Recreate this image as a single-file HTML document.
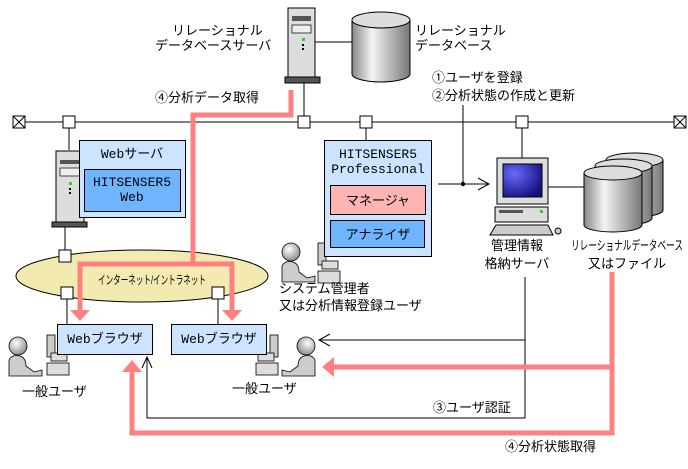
<!DOCTYPE html>
<html><head><meta charset="utf-8"><style>
body{margin:0;background:#fff;}
svg{display:block;font-family:"Liberation Sans","Noto Sans CJK JP",sans-serif;}
.t{font-size:13px;fill:#000;}
.m{font-family:"Liberation Mono","Noto Sans CJK JP",monospace;}
</style></head><body>
<svg width="688" height="469" viewBox="0 0 688 469" xmlns="http://www.w3.org/2000/svg">
<defs>
<linearGradient id="cyl" x1="0" x2="1"><stop offset="0" stop-color="#888"/><stop offset="0.35" stop-color="#f4f4f4"/><stop offset="1" stop-color="#777"/></linearGradient>
<radialGradient id="scr" cx="0.3" cy="0.3" r="0.8"><stop offset="0" stop-color="#6a6aff"/><stop offset="1" stop-color="#10107a"/></radialGradient>
<radialGradient id="head" cx="0.4" cy="0.35" r="0.7"><stop offset="0" stop-color="#fff"/><stop offset="1" stop-color="#888"/></radialGradient>
<g id="person">
<circle cx="12" cy="10" r="9" fill="url(#head)" stroke="#000" stroke-width="0.8"/>
<path d="M3 40 L3 24 Q6 18 14 20 Q20 22 20 30 L28 36 L36 34 L36 40 Z" fill="#ccc" stroke="#000" stroke-width="0.8"/>
</g>
<g id="pc">
<rect x="0" y="0" width="8" height="22" fill="#ccc" stroke="#000" stroke-width="0.8"/>
<rect x="4" y="18" width="16" height="8" fill="#ddd" stroke="#000" stroke-width="0.8"/>
<rect x="0" y="28" width="22" height="12" fill="#ddd" stroke="#000" stroke-width="0.8"/>
</g>
</defs>

<line x1="25" y1="122" x2="674" y2="122" stroke="#000"/>
<rect x="13" y="116" width="12" height="12" fill="#fff" stroke="#000"/><path d="M13 116L25 128M25 116L13 128" stroke="#000"/>
<rect x="674" y="116" width="12" height="12" fill="#fff" stroke="#000"/><path d="M674 116L686 128M686 116L674 128" stroke="#000"/>

<line x1="304" y1="80" x2="304" y2="122" stroke="#000"/>
<line x1="315" y1="42" x2="352" y2="42" stroke="#000"/>
<rect x="288" y="8" width="27" height="70" fill="#ddd" stroke="#000"/>
<rect x="292" y="16" width="19" height="5" fill="#555"/><rect x="292" y="25" width="19" height="8" fill="#eee" stroke="#000" stroke-width="0.7"/>
<rect x="302" y="38" width="3" height="3" fill="#3c3"/><rect x="302" y="44" width="2" height="2" fill="#000"/><rect x="302" y="48" width="2" height="2" fill="#000"/>
<rect x="285" y="77" width="35" height="6" fill="#555" stroke="#000"/>
<path d="M352 20 V74 A29 8 0 0 0 410 74 V20" fill="url(#cyl)" stroke="#000"/>
<ellipse cx="381" cy="20" rx="29" ry="8" fill="#ddd" stroke="#000"/>
<text class="t" x="415" y="35">リレーショナル</text><text class="t" x="415" y="50">データベース</text>
<text class="t" x="172" y="35">リレーショナル</text><text class="t" x="155" y="50">データベースサーバ</text>

<rect x="63" y="116" width="12" height="12" fill="#fff" stroke="#000"/>
<rect x="298" y="116" width="12" height="12" fill="#fff" stroke="#000"/>
<rect x="360" y="116" width="12" height="12" fill="#fff" stroke="#000"/>
<rect x="516" y="116" width="12" height="12" fill="#fff" stroke="#000"/>

<line x1="69" y1="128" x2="69" y2="150" stroke="#000"/>
<line x1="65" y1="227" x2="65" y2="252" stroke="#000"/>
<rect x="56" y="151" width="28" height="72" fill="#ddd" stroke="#000"/>
<rect x="60" y="160" width="20" height="4" fill="#555"/><rect x="60" y="168" width="20" height="8" fill="#eee" stroke="#000" stroke-width="0.7"/>
<rect x="69" y="182" width="3" height="3" fill="#3c3"/><rect x="69" y="188" width="2" height="2" fill="#000"/><rect x="69" y="192" width="2" height="2" fill="#000"/>
<rect x="52" y="222" width="35" height="5" fill="#555" stroke="#000"/>
<rect x="79.5" y="140.5" width="106" height="77" fill="#cce4ff" stroke="#000"/>
<text class="t m" x="132" y="158" text-anchor="middle">Webサーバ</text>
<rect x="84.5" y="169.5" width="96" height="42" fill="#6eb4ff" stroke="#000"/>
<text class="t m" x="132" y="186" text-anchor="middle">HITSENSER5</text><text class="t m" x="132" y="201" text-anchor="middle">Web</text>

<ellipse cx="142" cy="276" rx="126" ry="26" fill="#f2eab0" stroke="#000"/>
<rect x="59" y="250" width="12" height="12" fill="#fff" stroke="#000"/>
<rect x="61" y="287" width="12" height="12" fill="#fff" stroke="#000"/>
<rect x="212" y="287" width="12" height="12" fill="#fff" stroke="#000"/>
<line x1="67" y1="299" x2="67" y2="324" stroke="#000"/>
<line x1="218" y1="299" x2="218" y2="324" stroke="#000"/>
<text x="152" y="284" font-size="12" text-anchor="middle" textLength="108" lengthAdjust="spacingAndGlyphs">インターネット/イントラネット</text>

<path d="M291 90 V115 H193 V264" fill="none" stroke="#ff8080" stroke-width="5"/>
<path d="M80 318 V264 H232 V318" fill="none" stroke="#ff8080" stroke-width="5"/>
<path d="M70 310 L80 321 L90 310 Z" fill="#ff8080"/><path d="M222 310 L232 321 L242 310 Z" fill="#ff8080"/>
<text class="t" x="155" y="102">④分析データ取得</text>

<use href="#pc" x="47" y="335"/>
<use href="#person" x="6" y="336"/>
<rect x="57.5" y="324.5" width="95" height="30" fill="#cce4ff" stroke="#000"/>
<text class="t m" x="105" y="343" text-anchor="middle">Webブラウザ</text>
<g transform="translate(278,335) scale(-1,1)"><use href="#pc"/></g>
<g transform="translate(318,336) scale(-1,1)"><use href="#person"/></g>
<rect x="171.5" y="324.5" width="95" height="30" fill="#cce4ff" stroke="#000"/>
<text class="t m" x="219" y="343" text-anchor="middle">Webブラウザ</text>
<text class="t" x="22" y="396">一般ユーザ</text>
<text class="t" x="232" y="393">一般ユーザ</text>

<line x1="366" y1="128" x2="366" y2="140" stroke="#000"/>
<use href="#pc" x="318" y="243"/>
<use href="#person" x="279" y="242"/>
<rect x="324.5" y="140.5" width="107" height="116" fill="#cce4ff" stroke="#000"/>
<text class="t m" x="378" y="158" text-anchor="middle">HITSENSER5</text>
<text class="t m" x="378" y="173" text-anchor="middle">Professional</text>
<rect x="330.5" y="185.5" width="95" height="29" fill="#ffb4b4" stroke="#000"/>
<text class="t" x="378" y="205" text-anchor="middle">マネージャ</text>
<rect x="330.5" y="220.5" width="94" height="27" fill="#6eb4ff" stroke="#000"/>
<text class="t" x="378" y="239" text-anchor="middle">アナライザ</text>
<text class="t" x="279" y="293">システム管理者</text>
<text class="t" x="279" y="310">又は分析情報登録ユーザ</text>

<line x1="438" y1="184" x2="489" y2="184" stroke="#000"/>
<path d="M478 178 L489 184 L478 190" fill="none" stroke="#000"/>
<line x1="463" y1="105" x2="463" y2="184" stroke="#000"/>
<circle cx="463" cy="184" r="2.2" fill="#000"/>
<text class="t" x="432" y="82">①ユーザを登録</text>
<text class="t" x="432" y="100">②分析状態の作成と更新</text>

<line x1="522" y1="128" x2="522" y2="158" stroke="#000"/>
<line x1="548" y1="187" x2="584" y2="187" stroke="#000"/>
<rect x="497" y="158" width="51" height="46" fill="#ddd" stroke="#000"/>
<rect x="503" y="164" width="39" height="33" fill="url(#scr)" stroke="#000"/>
<rect x="495" y="207" width="53" height="15" fill="#ddd" stroke="#000"/>
<rect x="499" y="210" width="24" height="3" fill="#555"/><rect x="540" y="210" width="3" height="3" fill="#3c3"/>
<path d="M496 225 H548 L553 235 H490 Z" fill="#ccc" stroke="#000"/>
<circle cx="558" cy="231" r="3" fill="#ccc" stroke="#000"/>
<text class="t" x="517" y="250" text-anchor="middle">管理情報</text>
<text class="t" x="517" y="268" text-anchor="middle">格納サーバ</text>

<path d="M606 160 V210 A28 7 0 0 0 663 210 V160" fill="url(#cyl)" stroke="#000"/><ellipse cx="634.5" cy="160" rx="28.5" ry="7" fill="#ddd" stroke="#000"/>
<path d="M595 166 V218 A28 7 0 0 0 652 218 V166" fill="url(#cyl)" stroke="#000"/><ellipse cx="623.5" cy="166" rx="28.5" ry="7" fill="#ddd" stroke="#000"/>
<path d="M584 173 V225 A29 7 0 0 0 642 225 V173" fill="url(#cyl)" stroke="#000"/><ellipse cx="613" cy="173" rx="29" ry="7" fill="#ddd" stroke="#000"/>
<text x="627" y="250" font-size="13" text-anchor="middle" textLength="112" lengthAdjust="spacingAndGlyphs">リレーショナルデータベース</text>
<text class="t" x="627" y="268" text-anchor="middle">又はファイル</text>

<path d="M525 277 V418 H147 V358" fill="none" stroke="#000"/>
<path d="M142 368 L147 357 L152 368" fill="none" stroke="#000"/>
<line x1="525" y1="340" x2="320" y2="340" stroke="#000"/>
<path d="M330 334 L319 340 L330 346" fill="none" stroke="#000"/>
<text class="t" x="433" y="412">③ユーザ認証</text>

<path d="M612 272 V433 H132 V370" fill="none" stroke="#ff8080" stroke-width="5"/>
<path d="M122 372 L132 360 L142 372 Z" fill="#ff8080"/>
<path d="M612 367 H332" fill="none" stroke="#ff8080" stroke-width="5"/>
<path d="M334 357 L322 367 L334 377 Z" fill="#ff8080"/>
<text class="t" x="505" y="451">④分析状態取得</text>
</svg>
</body></html>
